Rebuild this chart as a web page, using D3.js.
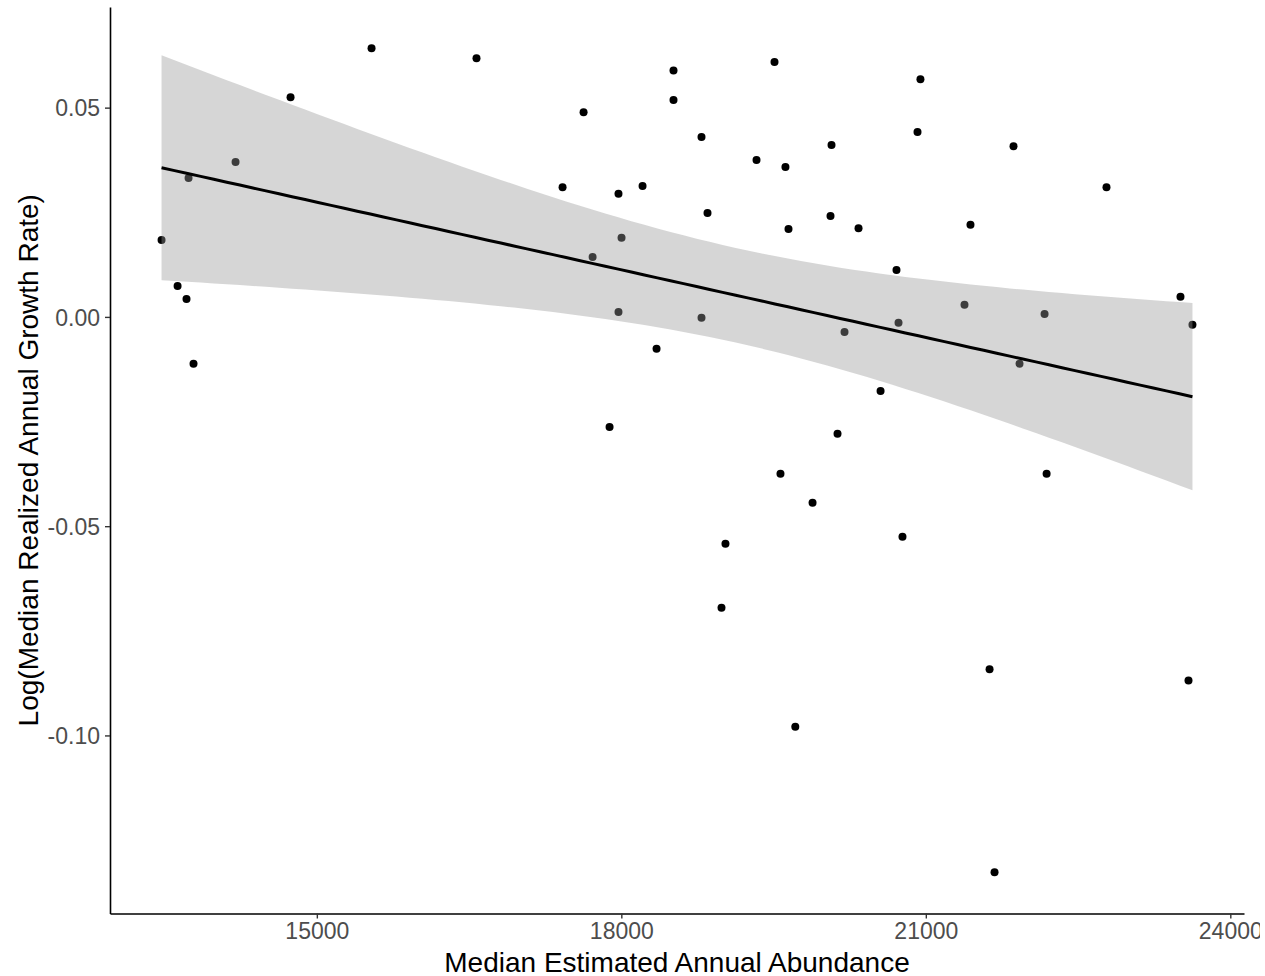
<!DOCTYPE html>
<html>
<head>
<meta charset="utf-8">
<script src="https://cdn.jsdelivr.net/npm/d3@7"></script>
<style>
  html, body { margin: 0; padding: 0; background: #fff; }
  svg { display: block; overflow: hidden; }
  text { font-family: "Liberation Sans", Arial, sans-serif; }
</style>
</head>
<body>
<svg width="1260" height="976"></svg>
<script>

// median estimated annual abundance (x) and log growth rate (y)
var abundance = [13470, 13628, 13716, 13736, 13785, 14199, 14741, 15539, 16573, 17421,
                 17628, 17717, 17884, 17972, 17972, 18002, 18209, 18347, 18514, 18514,
                 18790, 18790, 18849, 18987, 19026, 19332, 19509, 19568, 19617, 19647,
                 19714, 19884, 20071, 20061, 20130, 20199, 20337, 20554, 20711, 20731,
                 20770, 20918, 20947, 21381, 21440, 21628, 21677, 21864, 21923, 22170,
                 22190, 22780, 23509, 23588, 23627];
var growth = [0.0184, 0.0074, 0.0043, 0.0332, -0.0112, 0.0370, 0.0525, 0.0642, 0.0618, 0.0310,
              0.0489, 0.0143, -0.0263, 0.0294, 0.0012, 0.0189, 0.0313, -0.0076, 0.0589, 0.0518,
              0.0430, -0.0002, 0.0248, -0.0695, -0.0542, 0.0375, 0.0609, -0.0375, 0.0358, 0.0210,
              -0.0979, -0.0444, 0.0411, 0.0241, -0.0279, -0.0036, 0.0212, -0.0177, 0.0112, -0.0014,
              -0.0525, 0.0442, 0.0568, 0.0029, 0.0220, -0.0842, -0.1327, 0.0408, -0.0112, 0.0007,
              -0.0375, 0.0310, 0.0048, -0.0869, -0.0019];

var xTicks = [15000, 18000, 21000, 24000];
var yTicks = [-0.10, -0.05, 0.00, 0.05];
var yTickLabels = ["-0.10", "-0.05", "0.00", "0.05"];

var xTitle = "Median Estimated Annual Abundance";
var yTitle = "Log(Median Realized Annual Growth Rate)";

var svg = d3.select("svg"),
    panelLeft = 110, panelRight = 1244, panelTop = 7, panelBottom = 913.5;

var data = abundance.map(function(d, i) { return {x: d, y: growth[i]}; });

// ggplot style 5% expansion
var xExt = d3.extent(abundance), xPad = (xExt[1] - xExt[0]) * 0.05;
var yExt = d3.extent(growth), yPad = (yExt[1] - yExt[0]) * 0.05;

var x = d3.scaleLinear()
    .domain([xExt[0] - xPad, xExt[1] + xPad])
    .range([panelLeft, panelRight]);

var y = d3.scaleLinear()
    .domain([yExt[0] - yPad, yExt[1] + yPad])
    .range([panelBottom, panelTop]);

// linear fit + 95% confidence band
var n = data.length,
    mx = d3.mean(abundance),
    my = d3.mean(growth),
    sxx = d3.sum(abundance, function(d) { return (d - mx) * (d - mx); }),
    sxy = d3.sum(data, function(d) { return (d.x - mx) * (d.y - my); }),
    slope = sxy / sxx,
    icept = my - slope * mx,
    rss = d3.sum(data, function(d) { var r = d.y - (icept + slope * d.x); return r * r; }),
    sigma = Math.sqrt(rss / (n - 2)),
    tq = 2.0057;

var fit = d3.range(80).map(function(i) {
  var xv = xExt[0] + i * (xExt[1] - xExt[0]) / 79,
      yv = icept + slope * xv,
      se = sigma * Math.sqrt(1 / n + (xv - mx) * (xv - mx) / sxx);
  return {x: xv, y: yv, lo: yv - tq * se, hi: yv + tq * se};
});

// points
svg.append("g")
  .selectAll("circle")
  .data(data)
  .enter().append("circle")
    .attr("cx", function(d) { return x(d.x); })
    .attr("cy", function(d) { return y(d.y); })
    .attr("r", 4)
    .attr("fill", "#000");

// ribbon drawn over the points like geom_smooth
var band = d3.area()
    .x(function(d) { return x(d.x); })
    .y0(function(d) { return y(d.lo); })
    .y1(function(d) { return y(d.hi); });

svg.append("path")
    .datum(fit)
    .attr("d", band)
    .attr("fill", "#999999")
    .attr("fill-opacity", 0.4);

var line = d3.line()
    .x(function(d) { return x(d.x); })
    .y(function(d) { return y(d.y); });

svg.append("path")
    .datum(fit)
    .attr("d", line)
    .attr("fill", "none")
    .attr("stroke", "#000")
    .attr("stroke-width", 3);

// axes
var xAxis = svg.append("g")
    .attr("transform", "translate(0," + panelBottom + ")")
    .call(d3.axisBottom(x).tickValues(xTicks).tickSize(5).tickSizeOuter(0).tickPadding(4.5).tickFormat(d3.format("d")));

var yAxis = svg.append("g")
    .attr("transform", "translate(" + panelLeft + ",0)")
    .call(d3.axisLeft(y).tickValues(yTicks).tickSize(5).tickSizeOuter(0).tickPadding(5)
      .tickFormat(function(d, i) { return yTickLabels[i]; }));

svg.selectAll(".domain").attr("stroke", "#000").attr("stroke-width", 1.6);
svg.selectAll(".tick line").attr("stroke", "#333").attr("stroke-width", 1.4);
svg.selectAll(".tick text")
    .attr("fill", "#4d4d4d")
    .style("font-size", "23px")
    .style("font-family", "'Liberation Sans', Arial, sans-serif");
yAxis.selectAll(".tick text").attr("dy", "0.36em");

// titles
svg.append("text")
    .attr("x", (panelLeft + panelRight) / 2)
    .attr("y", 972)
    .attr("text-anchor", "middle")
    .style("font-size", "28px")
    .attr("fill", "#000")
    .text(xTitle);

svg.append("text")
    .attr("transform", "translate(38," + (panelTop + panelBottom) / 2 + ") rotate(-90)")
    .attr("text-anchor", "middle")
    .style("font-size", "28px")
    .attr("fill", "#000")
    .text(yTitle);

</script>
</body>
</html>
